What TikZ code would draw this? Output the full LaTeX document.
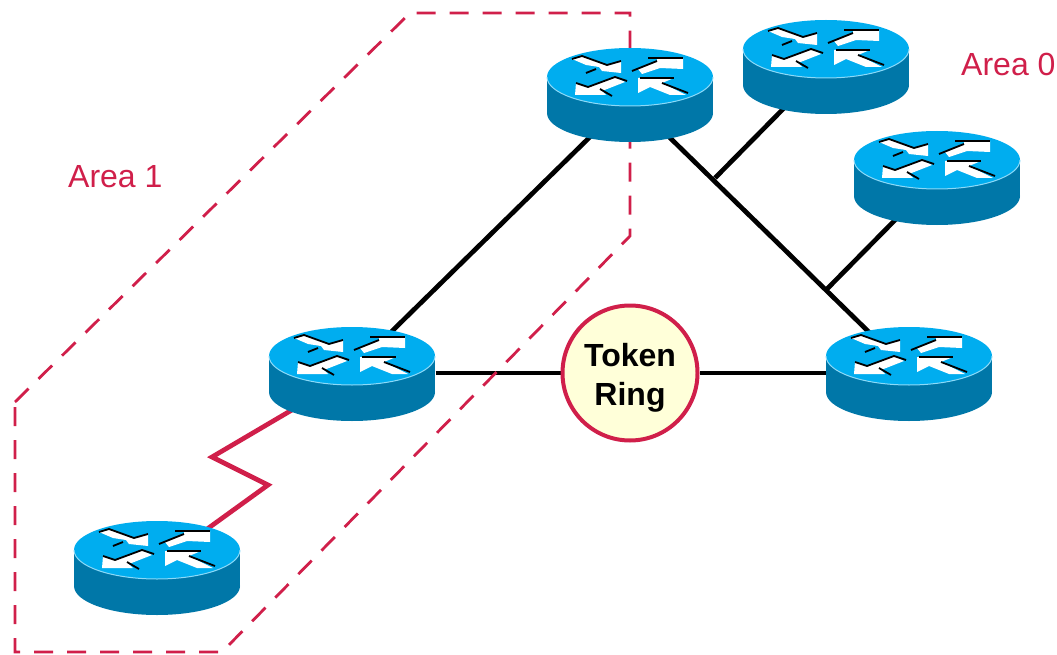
\documentclass[tikz,border=0pt]{standalone}
\usepackage{fontspec}
\setmainfont{Liberation Sans}
\usetikzlibrary{calc}
\pgfdeclarelayer{back}
\pgfsetlayers{back,main}
\definecolor{areared}{HTML}{D01F4A}
\definecolor{topblue}{HTML}{00ADEF}
\definecolor{sideblue}{HTML}{0077A8}
\definecolor{ringfill}{HTML}{FFFFD9}
\tikzset{
  x=1pt,y=-1pt,
  routerbox/.style={minimum width=167pt,minimum height=94pt,inner sep=0pt,outer sep=0pt},
  wire/.style={draw=black,line width=4.7pt},
  serial/.style={draw=areared,line width=4.7pt,line join=miter},
  arealine/.style={draw=areared,line width=2.8pt,dash pattern=on 19pt off 14pt},
  arealabel/.style={text=areared,font=\fontsize{32}{32}\selectfont,inner sep=0pt,anchor=base west},
  ringnode/.style={circle,draw=areared,fill=ringfill,line width=4pt,minimum size=135pt,inner sep=0pt},
  ringtext/.style={align=center,inner sep=0pt,font=\fontsize{32}{39}\selectfont\bfseries},
  arrowwhite/.style={fill=white,draw=none},
  arrowline/.style={draw=black,line width=1.8pt},
}
\newcommand{\routerat}[3]{%
  \node[routerbox] (#1) at (#2,#3+17) {};
  \begin{scope}[shift={(#2,#3)}]
    \fill[sideblue] (-83,0) rectangle (83,36);
    \fill[sideblue] (0,36) ellipse[x radius=83,y radius=29];
    \fill[topblue] (0,0) ellipse[x radius=83,y radius=29];
    \draw[white!55!topblue,line width=1pt] (-83,0) arc[start angle=180,end angle=0,x radius=83,y radius=29];
    % upper left arrow
    \fill[arrowwhite] (-58,-18) -- (-48,-21) -- (-23,-12) -- (-9,-16) -- (-9,-4) -- (-28,-6) -- (-31,-10) -- (-44,-12) -- cycle;
    \draw[arrowline] (-58,-18) -- (-48,-21) -- (-23,-12) -- (-9,-16);
    \draw[arrowline] (-44,-4) -- (-34,-8);
    % upper right arrow
    \fill[arrowwhite] (27,-19) -- (53,-19) -- (53,-8) -- (30,-9) -- (12,-3) -- (8,-8) -- (27,-16) -- cycle;
    \draw[arrowline] (18,-19) -- (53,-19);
    \draw[arrowline] (2,-6) -- (27,-16);
    % lower left arrow
    \fill[arrowwhite] (-54,6) -- (-42,10) -- (-15,0) -- (-5,5) -- (-28,14) -- (-24,18) -- (-55,18) -- cycle;
    \draw[arrowline] (-54,6) -- (-42,10) -- (-15,0) -- (-3,4);
    \draw[arrowline] (-30,12) -- (-18,19);
    % lower right arrow
    \fill[arrowwhite] (8,1) -- (44,1) -- (32,6) -- (56,18) -- (40,18) -- (20,10) -- (8,16) -- cycle;
    \draw[arrowline] (10,1) -- (44,1);
    \draw[arrowline] (32,6) -- (58,16);
  \end{scope}}
\begin{document}
\begin{tikzpicture}
  \useasboundingbox (0,0) rectangle (1057,655);
  \routerat{r1}{630}{77}
  \routerat{r2}{826}{49}
  \routerat{r3}{937}{160}
  \routerat{r4}{352}{356}
  \routerat{r5}{909}{356}
  \routerat{r6}{157}{550}
  \node[ringnode] (ring) at (630,373) {};
  \node[ringtext] (ringlabel) at (630,378) {Token\\Ring};
  \node[arealabel] (a1) at (68,188) {Area 1};
  \node[arealabel] (a0) at (961,76) {Area 0};
  \coordinate (j1) at (715,178);
  \coordinate (j2) at (826,290);
  \coordinate (z1) at (212,457);
  \coordinate (z2) at (268,485);
  \coordinate (d1) at (15,402);
  \coordinate (d2) at (410,13);
  \coordinate (d3) at (630,13);
  \coordinate (d4) at (630,236);
  \coordinate (d5) at (222,652);
  \coordinate (d6) at (15,652);
  \begin{pgfonlayer}{back}
    \draw[wire] ($(r1)+(-35,38)$) -- ($(r4)+(33,-35)$);
    \draw[wire] ($(r1)+(32,36)$) -- ($(r5)+(-34,-35)$);
    \draw[wire] ($(r2)+(-36,36)$) -- (j1);
    \draw[wire] ($(r3)+(-37,38)$) -- (j2);
    \draw[wire] (r4) -- (ring);
    \draw[wire] (ring) -- (r5);
    \draw[serial] ($(r4)+(-55,34)$) -- (z1) -- (z2) -- ($(r6)+(46,-35)$);
    \draw[arealine] (d1) -- (d2) -- (d3) -- (d4) -- (d5) -- (d6) -- cycle;
  \end{pgfonlayer}
\end{tikzpicture}
\end{document}
